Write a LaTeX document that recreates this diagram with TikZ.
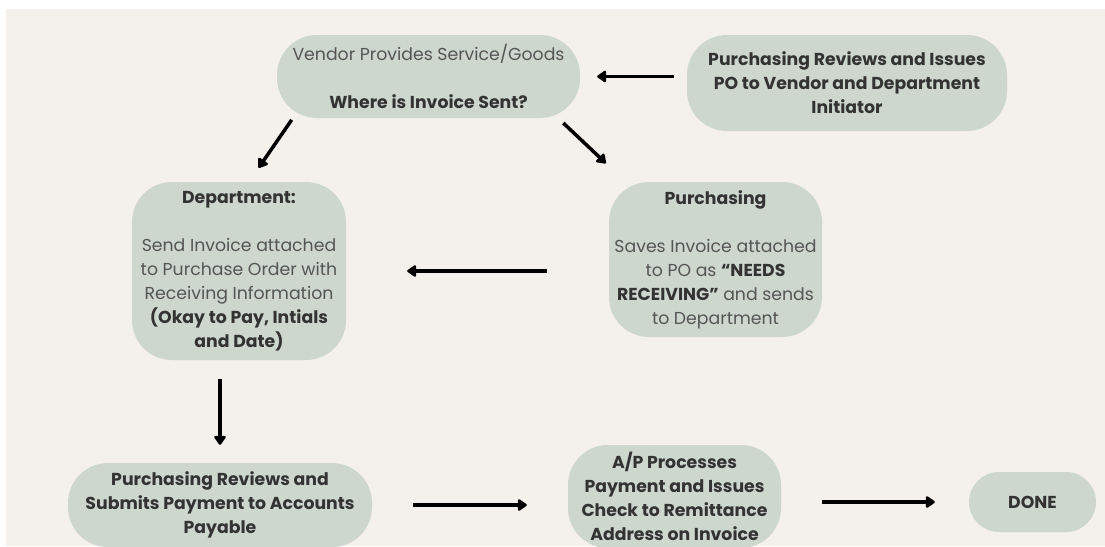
\documentclass[tikz,border=0pt]{standalone}
\usepackage{fontspec}
\setmainfont{Poppins}
\usetikzlibrary{arrows.meta}

\definecolor{paper}{HTML}{F4F0EB}
\definecolor{sage}{HTML}{CDD7CE}
\definecolor{ink}{HTML}{333333}
\definecolor{softink}{HTML}{555555}
\newcommand{\bterm}[1]{\textcolor{ink}{\textbf{#1}}}

\begin{document}
\begin{tikzpicture}[x=1pt, y=-1pt,
    stage/.style={fill=sage, rounded corners=40pt, inner sep=0pt, align=center, text=softink, font=\fontsize{17.3}{24}\selectfont},
    boldstage/.style={stage, text=ink, font=\fontsize{17.3}{24}\selectfont\bfseries},
    flow/.style={-{Triangle[width=13pt, length=10pt, round]}, line width=3.5pt, black},
]
    \path[use as bounding box, clip] (0,0) rectangle (1105,546);
    \fill[white] (0,0) rectangle (1105,546);
    \fill[paper] (6,9) rectangle (1105,546);

    \node[stage, minimum width=303pt, minimum height=83pt] (vendor) at (428.5,76.5) {Vendor Provides Service/Goods\\[24pt]\bterm{Where is Invoice Sent?}};
    \node[boldstage, minimum width=320pt, minimum height=96pt] (po) at (847,83) {Purchasing Reviews and Issues\\PO to Vendor and Department\\Initiator};
    \node[stage, minimum width=214pt, minimum height=178pt] (dept) at (239,271) {\bterm{Department:}\\[24pt]Send Invoice attached\\to Purchase Order with\\Receiving Information\\\bterm{(Okay to Pay, Intials}\\\bterm{and Date)}};
    \node[stage, minimum width=213pt, minimum height=155pt] (purch) at (715.5,259.5) {\bterm{Purchasing}\\[24pt]Saves Invoice attached\\to PO as \bterm{“NEEDS}\\\bterm{RECEIVING”} and sends\\to Department};
    \node[boldstage, minimum width=304pt, minimum height=84pt] (review) at (220,505) {Purchasing Reviews and\\Submits Payment to Accounts\\Payable};
    \node[boldstage, minimum width=213pt, minimum height=103pt] (pay) at (674.5,496.5) {A/P Processes\\Payment and Issues\\Check to Remittance\\Address on Invoice};
    \node[boldstage, rounded corners=30pt, minimum width=127pt, minimum height=60pt] (done) at (1032.5,502) {DONE};

    \draw[flow, shorten <=13pt, shorten >=17pt] (po.west |- vendor.east) -- (vendor.east);
    \draw[flow, shorten <=2pt, shorten >=17pt] ([xshift=16pt]vendor.south west) -- ([xshift=10pt]dept.north);
    \draw[flow, shorten <=7pt, shorten >=27pt] ([xshift=-22pt]vendor.south east) -- ([xshift=-90pt]purch.north);
    \draw[flow, shorten <=62pt, shorten >=61pt] (purch.west |- dept.east) -- (dept.east);
    \draw[flow, shorten <=19pt, shorten >=18pt] (dept.south -| review.north) -- (review.north);
    \draw[flow, shorten <=41pt, shorten >=41pt] (review.east) -- (review.east -| pay.west);
    \draw[flow, shorten <=41pt, shorten >=34pt] (pay.east |- done.west) -- (done.west);
\end{tikzpicture}
\end{document}
